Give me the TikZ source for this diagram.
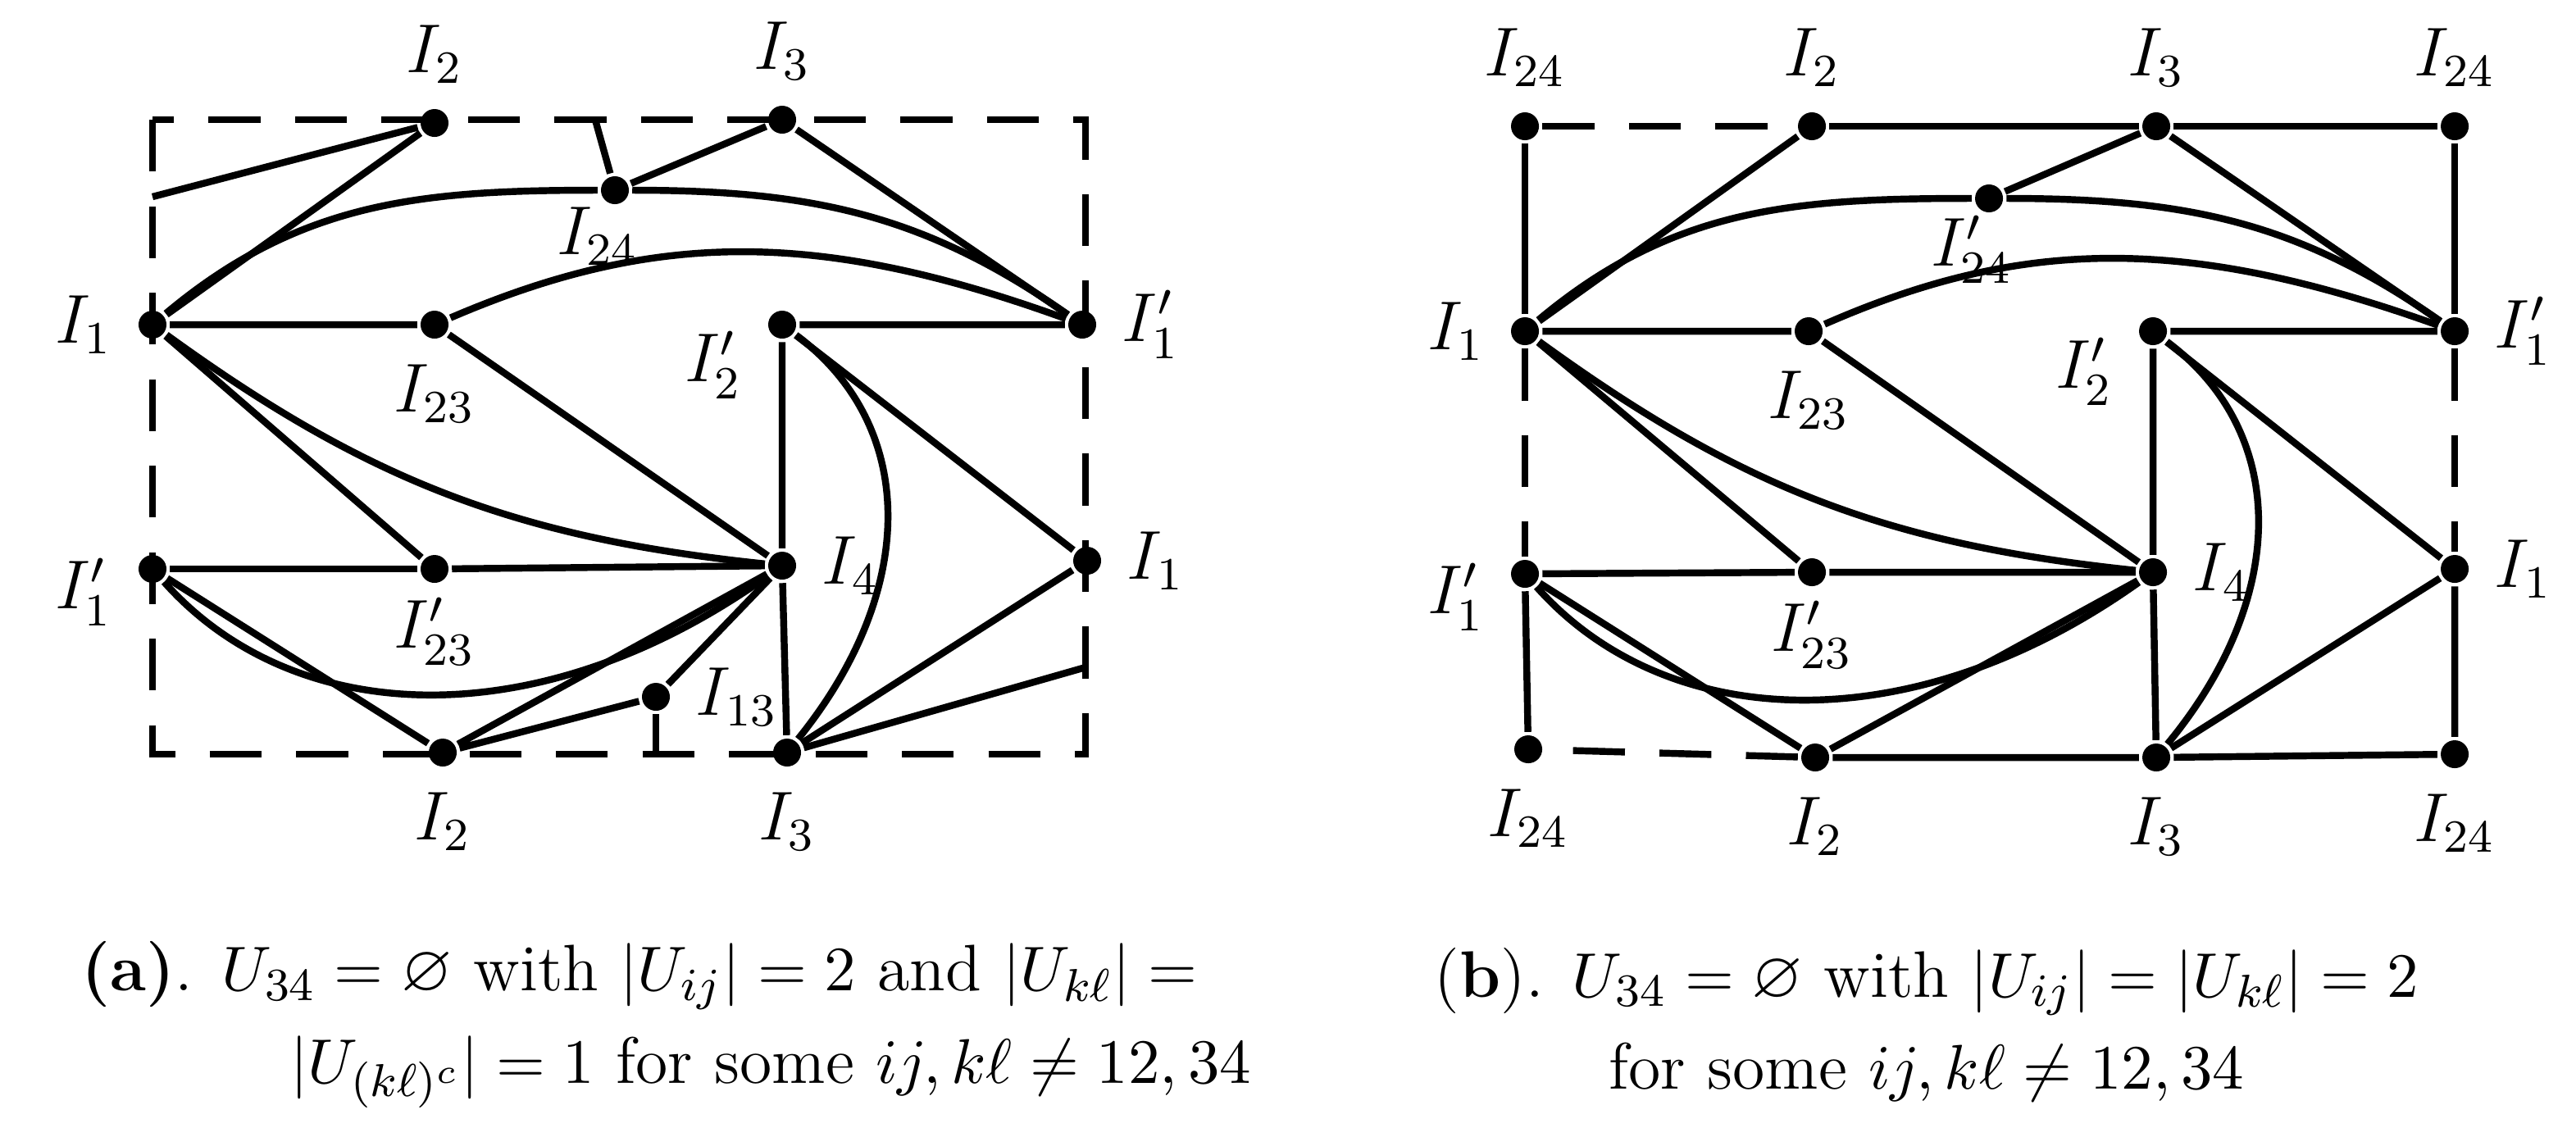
\documentclass[tikz,border=0pt]{standalone}
\usepackage{amsmath,amssymb}
\begin{document}
\begin{tikzpicture}[x=0.01cm,y=-0.01cm,line width=1.2pt,
    dot/.style={circle,fill,inner sep=0pt,minimum size=0.17cm},
    lab/.style={font=\large},
    dashedline/.style={dash pattern=on 9pt off 6pt}]
    \useasboundingbox (0,0) rectangle (1571,693);

    % (a)
    \draw[dashedline] (93,73) rectangle (662,460);
    \node[dot,label={[lab]above:$I_2$}] (a2t) at (265,75) {};
    \node[dot,label={[lab]above:$I_3$}] (a3t) at (477,73) {};
    \node[dot,label={[lab,xshift=-3pt,yshift=4pt]below:$I_{24}$}] (a24) at (375,116) {};
    \node[dot,label={[lab]left:$I_1$}] (a1) at (93,198) {};
    \node[dot,label={[lab]below:$I_{23}$}] (a23) at (265,198) {};
    \node[dot,label={[lab]right:$I_1'$}] (a1p) at (660,198) {};
    \node[dot,label={[lab,yshift=-7pt]left:$I_2'$}] (a2p) at (477,198) {};
    \node[dot,label={[lab,yshift=-4pt]left:$I_1'$}] (a1pl) at (93,347) {};
    \node[dot,label={[lab,yshift=2pt]below:$I_{23}'$}] (a23p) at (265,347) {};
    \node[dot,label={[lab]right:$I_4$}] (a4) at (477,345) {};
    \node[dot,label={[lab]right:$I_1$}] (a1r) at (663,342) {};
    \node[dot,label={[lab]right:$I_{13}$}] (a13) at (400,425) {};
    \node[dot,label={[lab]below:$I_2$}] (a2b) at (270,459) {};
    \node[dot,label={[lab]below:$I_3$}] (a3b) at (480,459) {};
    \coordinate (s1) at (93,120);
    \coordinate (s2) at (363,73);
    \coordinate (s3) at (400,460);
    \coordinate (s4) at (662,407);

    \draw (s1) -- (a2t) -- (a1) -- (a23) -- (a4) -- (a2p) -- (a1p);
    \draw (s2) -- (a24) -- (a3t) -- (a1p);
    \draw (a1) to[out=40,in=180] (a24) to[out=0,in=145] (a1p);
    \draw (a23) .. controls (400,140) and (500,140) .. (a1p);
    \draw (a1) to[bend right=15] (a4);
    \draw (a1) -- (a23p) -- (a4);
    \draw (a1pl) -- (a23p);
    \draw (a1pl) .. controls (180,445) and (330,450) .. (a4);
    \draw (a1pl) -- (a2b) -- (a4) -- (a13) -- (a2b);
    \draw (a13) -- (s3);
    \draw (a2p) -- (a1r) -- (a3b) -- (a4);
    \draw (a2p) .. controls (560,260) and (560,360) .. (a3b);
    \draw (a3b) -- (s4);

    % (b)
    \node[dot,label={[lab]above:$I_{24}$}] (b24a) at (930,77) {};
    \node[dot,label={[lab]above:$I_{24}$}] (b24b) at (1497,77) {};
    \node[dot,label={[lab]below:$I_{24}$}] (b24c) at (932,457) {};
    \node[dot,label={[lab]below:$I_{24}$}] (b24d) at (1497,460) {};
    \node[dot,label={[lab]above:$I_2$}] (b2t) at (1105,77) {};
    \node[dot,label={[lab]above:$I_3$}] (b3t) at (1315,77) {};
    \node[dot,label={[lab,xshift=-3pt,yshift=4pt]below:$I_{24}'$}] (b24p) at (1213,121) {};
    \node[dot,label={[lab]left:$I_1$}] (b1) at (930,202) {};
    \node[dot,label={[lab]below:$I_{23}$}] (b23) at (1103,202) {};
    \node[dot,label={[lab]right:$I_1'$}] (b1p) at (1497,202) {};
    \node[dot,label={[lab,yshift=-7pt]left:$I_2'$}] (b2p) at (1313,202) {};
    \node[dot,label={[lab,yshift=-4pt]left:$I_1'$}] (b1pl) at (930,350) {};
    \node[dot,label={[lab,yshift=2pt]below:$I_{23}'$}] (b23p) at (1105,349) {};
    \node[dot,label={[lab]right:$I_4$}] (b4) at (1313,349) {};
    \node[dot,label={[lab]right:$I_1$}] (b1r) at (1497,347) {};
    \node[dot,label={[lab]below:$I_2$}] (b2b) at (1107,462) {};
    \node[dot,label={[lab]below:$I_3$}] (b3b) at (1315,462) {};

    \draw[dashedline] (b24a) -- (b2t);
    \draw (b2t) -- (b3t) -- (b24b) -- (b1p);
    \draw (b24a) -- (b1);
    \draw[dashedline] (b1p) -- (b1r);
    \draw[dashedline] (b1) -- (b1pl);
    \draw[dashedline] (b2b) -- (b24c);
    \draw (b1r) -- (b24d) -- (b3b) -- (b2b);
    \draw (b24c) -- (b1pl);
    \draw (b2t) -- (b1) -- (b23) -- (b4) -- (b2p) -- (b1p);
    \draw (b24p) -- (b3t) -- (b1p);
    \draw (b1) to[out=40,in=180] (b24p) to[out=0,in=145] (b1p);
    \draw (b23) .. controls (1235,144) and (1335,144) .. (b1p);
    \draw (b1) to[bend right=15] (b4);
    \draw (b1) -- (b23p) -- (b4);
    \draw (b1pl) -- (b23p);
    \draw (b1pl) .. controls (1017,448) and (1167,453) .. (b4);
    \draw (b1pl) -- (b2b) -- (b4);
    \draw (b2p) -- (b1r) -- (b3b) -- (b4);
    \draw (b2p) .. controls (1396,264) and (1396,364) .. (b3b);

    % captions
    \node[font=\fontsize{11.4}{16}\selectfont,align=center] (capa) at (390,625)
        {\textbf{(a)}. $U_{34}=\varnothing$ with $|U_{ij}|=2$ and $|U_{k\ell}|=$\\
         \hspace{4em}$|U_{(k\ell)^c}|=1$ for some $ij,k\ell\neq 12,34$};
    \node[font=\fontsize{11.4}{16}\selectfont,align=center] (capb) at (1175,625)
        {(\textbf{b}). $U_{34}=\varnothing$ with $|U_{ij}|=|U_{k\ell}|=2$\\
         for some $ij,k\ell\neq 12,34$};
\end{tikzpicture}
\end{document}
